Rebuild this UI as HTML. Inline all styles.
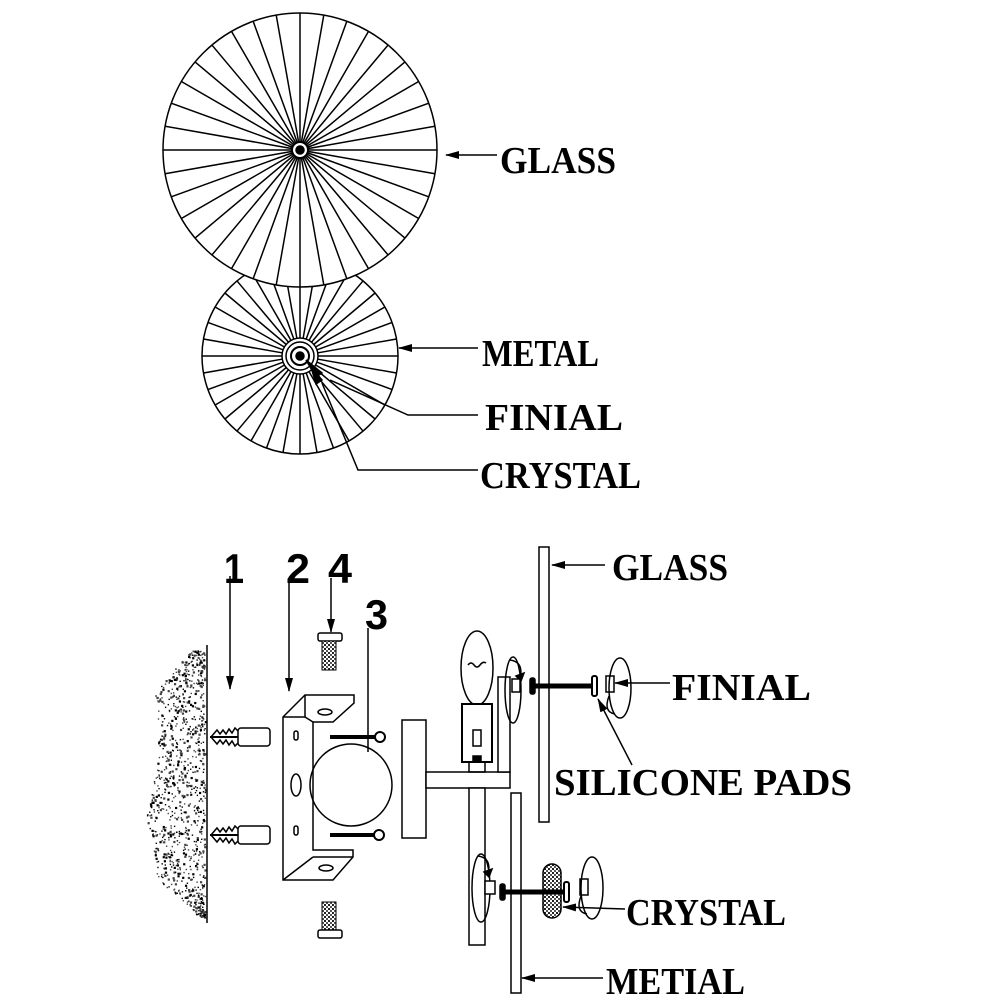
<!DOCTYPE html>
<html><head><meta charset="utf-8"><style>
html,body{margin:0;padding:0;background:#fff}
svg{display:block}
.lb{font-family:"Liberation Serif",serif;font-weight:bold;font-size:38px;fill:#000}
.nm{font-family:"Liberation Sans",sans-serif;font-weight:bold;font-size:42px;fill:#000}
</style></head><body>
<svg id="s" width="1000" height="1000" viewBox="0 0 1000 1000" xmlns="http://www.w3.org/2000/svg">
<defs>
<marker id="ah" markerWidth="14" markerHeight="8" refX="13" refY="4" orient="auto" markerUnits="userSpaceOnUse"><path d="M0,0 L14,4 L0,8 Z" fill="#000"/></marker>
<pattern id="knurl" width="4" height="4" patternUnits="userSpaceOnUse"><rect width="4" height="4" fill="#fff"/><rect width="2" height="2" fill="#222"/><rect x="2" y="2" width="2" height="2" fill="#555"/></pattern>
</defs>
<g id="dots" fill="#000"></g>
<g fill="none" stroke="#000" stroke-width="1.5">
<circle cx="300" cy="356" r="98" fill="#fff"/>
<g id="sp2"></g>
<circle cx="300" cy="150" r="137" fill="#fff"/>
<g id="sp1"></g>
<circle cx="300" cy="150" r="8" fill="#fff" stroke-width="2"/>
<circle cx="300" cy="150" r="4" fill="#000"/>
<circle cx="300" cy="356" r="18" fill="#fff"/>
<circle cx="300" cy="356" r="14"/>
<circle cx="300" cy="356" r="9" fill="#fff" stroke-width="2"/>
<circle cx="300" cy="356" r="4" fill="#000"/>
<line x1="497" y1="155" x2="446" y2="155" marker-end="url(#ah)"/>
<line x1="478" y1="348" x2="399" y2="348" marker-end="url(#ah)"/>
<polyline points="478,415 408,415 330,380"/>
<path d="M306,360 L322,373 L316,377 Z" fill="#000"/>
<polyline points="478,470 358,470 322,383"/>
<path d="M311,367 L322,380 L316,384 Z" fill="#000"/>

<line x1="207" y1="645" x2="207" y2="923"/>
<line x1="230" y1="576" x2="230" y2="689" marker-end="url(#ah)"/>
<line x1="289" y1="582" x2="289" y2="691" marker-end="url(#ah)"/>
<line x1="331" y1="578" x2="331" y2="632" marker-end="url(#ah)"/>
<line x1="368" y1="628" x2="368" y2="752"/>
<rect x="318" y="633" width="24" height="8" rx="2" fill="#fff"/>
<rect x="322" y="641" width="14" height="29" fill="url(#knurl)" stroke-width="1"/>
<rect x="322" y="902" width="14" height="28" fill="url(#knurl)" stroke-width="1"/>
<rect x="318" y="930" width="24" height="8" rx="2" fill="#fff"/>
<g id="anc1">
<rect x="238" y="728" width="32" height="18" rx="3" fill="#fff"/>
<polyline points="238,731 235,728 232,733 229,729 226,734 223,730 220,734 217,730 211,737 217,744 220,740 223,744 226,740 229,745 232,741 235,746 238,743"/>
<line x1="210" y1="737" x2="238" y2="737" stroke-width="2"/>
</g>
<use href="#anc1" transform="translate(0,98)"/>
<polygon points="283,717 305,695 354,695 354,703 333,722 313,722 313,850 353,850 353,857 333,880 283,880" fill="#fff"/>
<line x1="305" y1="695" x2="305" y2="717"/>
<line x1="283" y1="717" x2="305" y2="717"/>
<line x1="305" y1="717" x2="313" y2="722"/>
<line x1="313" y1="857" x2="283" y2="880"/>
<line x1="313" y1="857" x2="353" y2="857"/>
<ellipse cx="325" cy="712" rx="7" ry="3"/>
<ellipse cx="326" cy="868" rx="7" ry="3"/>
<ellipse cx="296" cy="785" rx="5" ry="11"/>
<rect x="294" y="731" width="4" height="9" rx="2"/>
<rect x="294" y="826" width="4" height="9" rx="2"/>
<circle cx="351" cy="785" r="41"/>
<line x1="330" y1="737" x2="378" y2="737" stroke-width="4"/>
<circle cx="380" cy="737" r="5" fill="#fff" stroke-width="2"/>
<line x1="330" y1="835" x2="378" y2="835" stroke-width="4"/>
<circle cx="379" cy="835" r="5" fill="#fff" stroke-width="2"/>
<rect x="402" y="720" width="24" height="118" fill="#fff"/>
<rect x="426" y="772" width="84" height="16" fill="#fff"/>
<rect x="469" y="788" width="16" height="157" fill="#fff"/>
<rect x="498" y="677" width="12" height="95" fill="#fff"/>
<rect x="469" y="762" width="16" height="10"/>
<ellipse cx="477" cy="668" rx="16" ry="37" fill="#fff"/>
<path d="M468,665 q3,-4 6,0 t6,0 t6,-2"/>
<rect x="462" y="704" width="30" height="58" fill="#fff" stroke-width="2"/>
<rect x="473" y="730" width="8" height="16"/>
<rect x="473" y="756" width="8" height="6" fill="#000"/>
<rect x="539" y="547" width="10" height="275" fill="#fff"/>
<rect x="511" y="793" width="10" height="200" fill="#fff"/>
<ellipse cx="513" cy="690" rx="8" ry="33"/>
<path d="M510,660 q14,2 10,18"/><path d="M516,676 l8,-3 l-3,8 z" fill="#000"/>
<rect x="512" y="679" width="8" height="13" fill="#fff"/>
<line x1="533" y1="686" x2="595" y2="686" stroke-width="5"/>
<rect x="530" y="678" width="5" height="16" rx="2" fill="#000"/>
<rect x="592" y="676" width="5" height="20" rx="2" fill="#fff" stroke-width="2"/>
<rect x="606" y="676" width="8" height="16" fill="#fff"/>
<ellipse cx="620" cy="688" rx="11" ry="30"/>
<path d="M615,714 q-12,-2 -6,-18"/>
<ellipse cx="481" cy="888" rx="9" ry="34"/>
<path d="M478,856 q14,2 10,18"/><path d="M484,872 l8,-3 l-3,8 z" fill="#000"/>
<rect x="485" y="881" width="10" height="13" fill="#fff"/>
<rect x="543" y="864" width="18" height="54" rx="9" fill="url(#knurl)"/>
<line x1="503" y1="892" x2="567" y2="892" stroke-width="5"/>
<rect x="500" y="884" width="5" height="16" rx="2" fill="#000"/>
<rect x="564" y="882" width="5" height="20" rx="2" fill="#fff" stroke-width="2"/>
<rect x="580" y="879" width="8" height="16" fill="#fff"/>
<ellipse cx="592" cy="888" rx="11" ry="31"/>
<path d="M587,914 q-12,-2 -6,-18"/>
<line x1="605" y1="565" x2="552" y2="565" marker-end="url(#ah)"/>
<line x1="670" y1="683" x2="615" y2="683" marker-end="url(#ah)"/>
<line x1="632" y1="765" x2="598" y2="699" marker-end="url(#ah)"/>
<line x1="625" y1="909" x2="563" y2="907" marker-end="url(#ah)"/>
<line x1="603" y1="978" x2="522" y2="978" marker-end="url(#ah)"/>
</g>
<text class="lb" x="500" y="173" textLength="116" lengthAdjust="spacingAndGlyphs">GLASS</text>
<text class="lb" x="482" y="366" textLength="117" lengthAdjust="spacingAndGlyphs">METAL</text>
<text class="lb" x="485" y="430" textLength="138" lengthAdjust="spacingAndGlyphs">FINIAL</text>
<text class="lb" x="480" y="488" textLength="161" lengthAdjust="spacingAndGlyphs">CRYSTAL</text>
<text class="lb" x="612" y="580" textLength="116" lengthAdjust="spacingAndGlyphs">GLASS</text>
<text class="lb" x="672" y="700" textLength="139" lengthAdjust="spacingAndGlyphs">FINIAL</text>
<text class="lb" x="554" y="795" textLength="298" lengthAdjust="spacingAndGlyphs">SILICONE PADS</text>
<text class="lb" x="626" y="925" textLength="160" lengthAdjust="spacingAndGlyphs">CRYSTAL</text>
<text class="lb" x="606" y="994" textLength="139" lengthAdjust="spacingAndGlyphs">METIAL</text>
<text class="nm" x="224" y="583" textLength="20" lengthAdjust="spacingAndGlyphs">1</text>
<text class="nm" x="286" y="583" textLength="24" lengthAdjust="spacingAndGlyphs">2</text>
<text class="nm" x="328" y="583" textLength="24" lengthAdjust="spacingAndGlyphs">4</text>
<text class="nm" x="365" y="629" textLength="23" lengthAdjust="spacingAndGlyphs">3</text>
</svg>
<script>
(function(){
var ns="http://www.w3.org/2000/svg";
function spokes(id,cx,cy,r,r0,n){var g=document.getElementById(id);for(var i=0;i<n;i++){var a=i*2*Math.PI/n;var l=document.createElementNS(ns,"line");l.setAttribute("x1",cx+r0*Math.cos(a));l.setAttribute("y1",cy+r0*Math.sin(a));l.setAttribute("x2",cx+r*Math.cos(a));l.setAttribute("y2",cy+r*Math.sin(a));g.appendChild(l);}}
spokes("sp1",300,150,137,8,36);
spokes("sp2",300,356,98,14,36);
var g=document.getElementById("dots");var s=12345;function rnd(){s=(s*1103515245+12345)%2147483648;return s/2147483648;}
for(var i=0;i<1000;i++){var y=650+rnd()*270;var t=(y-650)/270;
var left=146+12*Math.abs(Math.sin(t*Math.PI*1.6))+(t<0.15?(0.15-t)*300:0)+(t>0.85?(t-0.85)*300:0);
if(left>200)continue;var x=left+rnd()*(205-left);
var c=document.createElementNS(ns,"rect");c.setAttribute("x",x);c.setAttribute("y",y);var w=rnd()<0.3?2.2:1.4;c.setAttribute("width",w);c.setAttribute("height",w);c.setAttribute("fill",rnd()<0.5?"#000":"#444");g.appendChild(c);}
})();
</script>
</body></html>
